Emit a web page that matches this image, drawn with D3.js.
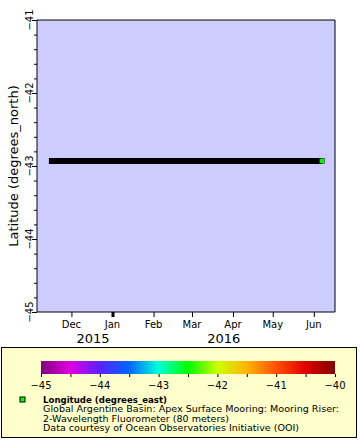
<!DOCTYPE html>
<html><head><meta charset="utf-8">
<script src="https://cdn.jsdelivr.net/npm/d3@7"></script>
<style>body{margin:0;background:#fff}svg{display:block;font-family:"DejaVu Sans",sans-serif}</style>
</head><body><svg id="c" width="360" height="440"></svg>
<script>
const times = ["2015-11-14","2016-01-15","2016-03-15","2016-06-07"];
const lats = [-42.93,-42.93,-42.93,-42.93];
const lastLon = -42.5;
const yTicks = [-45,-44,-43,-42,-41];
const monthLabels = ["Dec","Jan","Feb","Mar","Apr","May","Jun"];
const monthDates = ["2015-12-01","2016-01-01","2016-02-01","2016-03-01","2016-04-01","2016-05-01","2016-06-01"];
const yearLabels = ["2015","2016"];
const cbTicks = [-45,-44,-43,-42,-41,-40];
const cbStops = [-45,-44.5,-44,-43.5,-43,-42.5,-42,-41.5,-41,-40.5,-40];
const cbColors = ["#800080","#e000e0","#5a22ff","#0066ff","#00ffd8","#00ff00","#ccff00","#ffb400","#ff5000","#e00000","#800000"];
const legendTitle = "Longitude (degrees_east)";
const legendLines = ["Global Argentine Basin: Apex Surface Mooring: Mooring Riser:","2-Wavelength Fluorometer (80 meters)","Data courtesy of Ocean Observatories Initiative (OOI)"];

const svg = d3.select("#c");
const P = {l:37,r:335,t:20,b:312};
const parse = d3.utcParse("%Y-%m-%d");
const x = d3.scaleUtc().domain([parse("2015-11-05"), parse("2016-06-17")]).range([P.l,P.r]);
const y = d3.scaleLinear().domain([-45,-41]).range([P.b,P.t]);

svg.append("rect").attr("x",P.l).attr("y",P.t).attr("width",P.r-P.l).attr("height",P.b-P.t).attr("fill","#ccccff");

// data line
const pts = times.map((t,i)=>[parse(t),lats[i]]);
svg.append("path").datum(pts).attr("fill","none").attr("stroke","#000").attr("stroke-width",6)
  .attr("d",d3.line().x(d=>x(d[0])).y(d=>y(d[1])));
const cscale = d3.scaleLinear().domain(cbStops).range(cbColors);
const last = pts[pts.length-1];
svg.append("rect").attr("x",x(last[0])-2.5).attr("y",y(last[1])-2.5).attr("width",5).attr("height",5)
  .attr("fill",cscale(lastLon)).attr("stroke","#000").attr("stroke-width",0.5);

// Y axis
const yAxis = svg.append("g").attr("transform",`translate(${P.l},0)`)
  .call(d3.axisLeft(y).tickValues(d3.range(-45,-40.99,0.2)).tickSize(3).tickFormat(""));
yAxis.select(".domain").remove();
yAxis.selectAll("line").attr("stroke","#000");
svg.append("g").attr("transform",`translate(${P.l},0)`)
  .call(d3.axisLeft(y).tickValues(yTicks).tickSize(5).tickFormat(""))
  .call(g=>g.select(".domain").remove());
yTicks.forEach(v=>{
  svg.append("text").attr("transform",`translate(33,${y(v)}) rotate(-90)`).attr("text-anchor","middle")
    .attr("font-size",10).text(d3.format("d")(v));
});
svg.append("text").attr("transform",`translate(18,${(P.t+P.b)/2}) rotate(-90)`).attr("text-anchor","middle")
  .attr("font-size",13).text("Latitude (degrees_north)");

// X axis
const xa = svg.append("g").attr("transform",`translate(0,${P.b})`)
  .call(d3.axisBottom(x).tickValues(monthDates.map(parse)).tickSize(5).tickFormat(""));
xa.select(".domain").remove();
xa.selectAll("line").attr("stroke","#000").attr("stroke-width",(d,i)=>monthLabels[i]==="Jan"?3:1);
monthDates.forEach((d,i)=>{
  svg.append("text").attr("x",x(parse(d))).attr("y",328).attr("text-anchor","middle").attr("font-size",10).text(monthLabels[i]);
});
svg.append("text").attr("x",93).attr("y",343).attr("text-anchor","middle").attr("font-size",13).text(yearLabels[0]);
svg.append("text").attr("x",(x(parse("2016-01-01"))+P.r)/2).attr("y",343).attr("text-anchor","middle").attr("font-size",13).text(yearLabels[1]);

// frame
svg.append("path").attr("d",`M${P.l},${P.t}H${P.r}V${P.b}H${P.l}Z`).attr("fill","none").attr("stroke","#000").attr("stroke-width",1);

// legend
svg.append("rect").attr("x",1.5).attr("y",347.5).attr("width",355).attr("height",90).attr("fill","#ffffcc").attr("stroke","#000");
const cb = d3.scaleLinear().domain([-45,-40]).range([41,335]);
const defs = svg.append("defs");
const grad = defs.append("linearGradient").attr("id","g");
cbStops.forEach((s,i)=>grad.append("stop").attr("offset",(s+45)/5).attr("stop-color",cbColors[i]));
svg.append("rect").attr("x",41).attr("y",361).attr("width",294).attr("height",13).attr("fill","url(#g)");
const cba = svg.append("g").attr("transform","translate(0,374)")
  .call(d3.axisBottom(cb).tickValues(d3.range(-45,-39.99,0.5)).tickSize(3).tickFormat(""));
cba.select(".domain").remove();
cba.selectAll("line").attr("stroke","#000");
cbTicks.forEach(v=>svg.append("text").attr("x",cb(v)).attr("y",389).attr("text-anchor","middle").attr("font-size",10).text(d3.format("d")(v)));

svg.append("rect").attr("x",20).attr("y",397).attr("width",5).attr("height",5).attr("fill",cscale(lastLon)).attr("stroke","#000").attr("stroke-width",1);
const lineW = [124, 296, 186, 256];
[legendTitle, ...legendLines].forEach((t,i)=>{
  svg.append("text").attr("x",43).attr("y",402.5+i*9.5).attr("font-size",8.1)
    .attr("font-weight",i===0?"bold":"normal")
    .attr("textLength",lineW[i]).attr("lengthAdjust","spacingAndGlyphs").text(t);
});
</script></body></html>
